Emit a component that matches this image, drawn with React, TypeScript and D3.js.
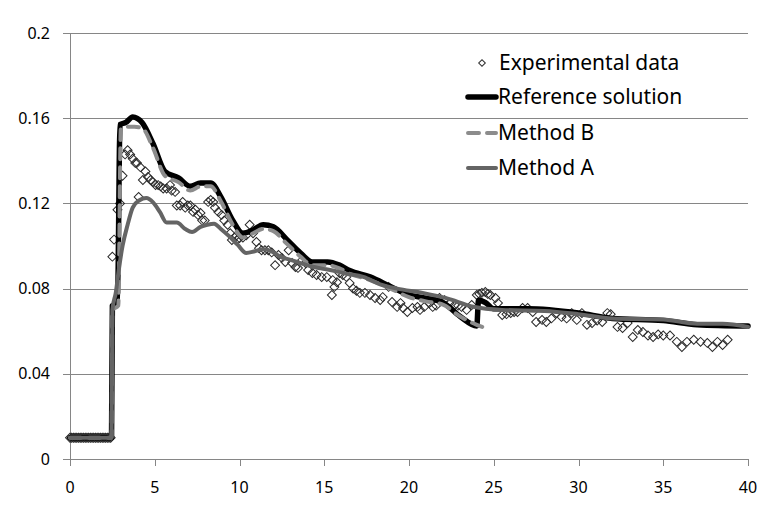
import { useEffect, useRef } from "react";
import * as d3 from "d3";

type Pt = [number, number];

const xTicks = [0, 5, 10, 15, 20, 25, 30, 35, 40];
const yTicks = [0, 0.04, 0.08, 0.12, 0.16, 0.2];
const yTickLabels = ["0", "0.04", "0.08", "0.12", "0.16", "0.2"];

const seriesNames = ["Experimental data", "Reference solution", "Method B", "Method A"];

const experimental: Pt[] = [
  [0, 0.01], [0.1, 0.01], [0.2, 0.01], [0.3, 0.01], [0.4, 0.01], [0.5, 0.01], [0.6, 0.01],
  [0.7, 0.01], [0.8, 0.01], [0.9, 0.01], [1.0, 0.01], [1.1, 0.01], [1.2, 0.01], [1.3, 0.01],
  [1.4, 0.01], [1.5, 0.01], [1.6, 0.01], [1.7, 0.01], [1.8, 0.01], [1.9, 0.01], [2.0, 0.01],
  [2.1, 0.01], [2.2, 0.01], [2.3, 0.01], [2.4, 0.01],
  [2.5, 0.095], [2.6, 0.103], [2.8, 0.117], [2.95, 0.12], [3.1, 0.133], [3.25, 0.143],
  [3.4, 0.145], [3.55, 0.143], [3.7, 0.141], [3.85, 0.139], [3.95, 0.139], [4.05, 0.123],
  [4.15, 0.137], [4.3, 0.131], [4.45, 0.135], [4.6, 0.1324], [4.75, 0.131], [4.9, 0.13],
  [5.05, 0.1286], [5.2, 0.1286], [5.35, 0.128], [5.5, 0.127], [5.7, 0.127], [5.9, 0.1286],
  [6.0, 0.126], [6.2, 0.1254], [6.3, 0.119], [6.5, 0.119], [6.65, 0.1207], [6.8, 0.118],
  [6.95, 0.119], [7.1, 0.119], [7.26, 0.116], [7.4, 0.117], [7.55, 0.1146], [7.7, 0.1155],
  [7.8, 0.112], [7.95, 0.112], [8.15, 0.1207], [8.3, 0.1216], [8.45, 0.1207], [8.55, 0.118],
  [8.75, 0.116], [8.95, 0.1146], [9.1, 0.112], [9.3, 0.11], [9.45, 0.106], [9.55, 0.1028],
  [9.7, 0.104], [9.85, 0.1028], [10.0, 0.1037], [10.2, 0.104], [10.4, 0.105], [10.6, 0.11],
  [10.8, 0.106], [11.0, 0.1019], [11.15, 0.099], [11.3, 0.098], [11.5, 0.098], [11.7, 0.098],
  [11.9, 0.097], [12.1, 0.091], [12.3, 0.0958], [12.5, 0.0944], [12.7, 0.0925], [12.9, 0.098],
  [13.1, 0.092], [13.3, 0.0901], [13.45, 0.0897], [13.7, 0.0934], [13.9, 0.092], [14.05, 0.0887],
  [14.3, 0.0873], [14.55, 0.0864], [14.85, 0.0854], [15.15, 0.0854], [15.45, 0.077], [15.5, 0.084],
  [15.6, 0.0808], [15.75, 0.083], [15.9, 0.0873], [16.1, 0.0864], [16.3, 0.0855], [16.5, 0.0826],
  [16.7, 0.08], [16.9, 0.079], [17.1, 0.078], [17.4, 0.078], [17.7, 0.077], [18.0, 0.0756],
  [18.3, 0.0746], [18.45, 0.076], [18.8, 0.0808], [19.0, 0.0737], [19.3, 0.0714], [19.5, 0.0732],
  [19.65, 0.0709], [19.9, 0.069], [20.2, 0.0709], [20.5, 0.0714], [20.65, 0.07], [20.9, 0.0714],
  [21.2, 0.0732], [21.4, 0.0714], [21.6, 0.072], [21.8, 0.0756], [22.1, 0.0746], [22.4, 0.0732],
  [22.7, 0.0723], [22.9, 0.072], [23.1, 0.0714], [23.4, 0.07], [23.7, 0.0723], [24.0, 0.077],
  [24.15, 0.0775], [24.3, 0.078], [24.5, 0.0784], [24.65, 0.0775], [24.8, 0.077], [25.1, 0.0756],
  [25.25, 0.0732], [25.5, 0.0676], [25.75, 0.068], [26.0, 0.0685], [26.2, 0.069], [26.4, 0.069],
  [26.7, 0.0709], [27.0, 0.0709], [27.3, 0.069], [27.5, 0.0643], [27.85, 0.0653], [28.1, 0.0643],
  [28.4, 0.066], [28.7, 0.0685], [29.0, 0.0667], [29.3, 0.066], [29.6, 0.0685], [29.9, 0.0653],
  [30.2, 0.0685], [30.5, 0.063], [30.8, 0.0638], [31.1, 0.065], [31.4, 0.0643], [31.7, 0.0685],
  [31.9, 0.068], [32.3, 0.062], [32.6, 0.0615], [32.9, 0.0638], [33.2, 0.0573], [33.5, 0.0606],
  [33.8, 0.0596], [34.1, 0.058], [34.4, 0.0573], [34.7, 0.0585], [35.0, 0.058], [35.4, 0.058],
  [35.8, 0.055], [36.1, 0.0526], [36.4, 0.055], [36.8, 0.056], [37.2, 0.055], [37.6, 0.0545],
  [37.9, 0.0526], [38.2, 0.055], [38.5, 0.0535], [38.8, 0.056],
];

const referenceSolution: Pt[] = [
  [0, 0.01], [2.45, 0.01], [2.5, 0.072], [2.8, 0.073], [2.95, 0.157], [3.3, 0.158], [3.7, 0.1606],
  [4.25, 0.158], [4.9, 0.148], [5.6, 0.135], [6.4, 0.132], [7.1, 0.128], [7.7, 0.1296],
  [8.3, 0.1296], [8.9, 0.123], [9.6, 0.112], [10.2, 0.106], [10.8, 0.1075], [11.4, 0.11],
  [12.0, 0.109], [12.8, 0.103], [13.6, 0.0967], [14.3, 0.0925], [15.2, 0.0925], [15.9, 0.091],
  [16.5, 0.0885], [17.7, 0.0855], [18.9, 0.081], [20, 0.077], [21, 0.0755], [22, 0.0735],
  [23, 0.067], [24.0, 0.0625], [24.1, 0.0745], [24.5, 0.0735], [25, 0.0705], [27, 0.0705],
  [30, 0.0685], [32, 0.066], [35, 0.065], [37, 0.063], [40, 0.0624],
];

const methodB: Pt[] = [
  [0, 0.01], [2.45, 0.01], [2.5, 0.07], [2.85, 0.072], [3.0, 0.155], [3.4, 0.156], [3.8, 0.156],
  [4.3, 0.155], [4.9, 0.146], [5.6, 0.133], [6.4, 0.13], [7.1, 0.126], [7.7, 0.128], [8.3, 0.128],
  [8.9, 0.121], [9.6, 0.11], [10.2, 0.104], [10.8, 0.106], [11.4, 0.108], [12.0, 0.107],
  [12.8, 0.101], [13.6, 0.095], [14.3, 0.091], [15.2, 0.091], [15.9, 0.0895], [16.5, 0.087],
  [17.7, 0.084], [18.9, 0.08], [20, 0.076], [21, 0.074], [22, 0.0725], [23, 0.067], [24.0, 0.063],
  [24.5, 0.0615],
];

const methodA: Pt[] = [
  [0, 0.01], [2.45, 0.01], [2.5, 0.07], [2.7, 0.078], [2.9, 0.09], [3.1, 0.1], [3.4, 0.11],
  [3.7, 0.118], [4.1, 0.1215], [4.5, 0.1225], [4.9, 0.1205], [5.3, 0.116], [5.7, 0.111],
  [6.3, 0.111], [6.8, 0.108], [7.2, 0.1066], [7.7, 0.109], [8.1, 0.11], [8.5, 0.1105],
  [8.9, 0.108], [9.4, 0.1045], [9.9, 0.1005], [10.4, 0.0967], [10.9, 0.0975], [11.4, 0.0985],
  [11.9, 0.0975], [12.4, 0.095], [13.0, 0.0935], [13.6, 0.092], [14.2, 0.0905], [14.8, 0.0895],
  [15.5, 0.0885], [16.3, 0.087], [17.3, 0.0855], [18.3, 0.082], [19.3, 0.08], [20.8, 0.078],
  [22.2, 0.0755], [23.8, 0.0715], [25.5, 0.07], [28, 0.0695], [30, 0.068], [32, 0.066],
  [35, 0.0655], [37, 0.0635], [38.5, 0.0635], [40, 0.062],
];

const WIDTH = 779;
const HEIGHT = 508;
const FONT = "'Noto Sans', 'Open Sans', sans-serif";

export default function App() {
  const ref = useRef<SVGSVGElement | null>(null);

  useEffect(() => {
    if (!ref.current) return;
    const svg = d3.select(ref.current);
    svg.selectAll("*").remove();

    const margin = { top: 33, right: 31, bottom: 49, left: 70 };
    const x = d3.scaleLinear().domain([0, 40]).range([margin.left, WIDTH - margin.right]);
    const y = d3.scaleLinear().domain([0, 0.2]).range([HEIGHT - margin.bottom, margin.top]);
    const axisColor = "#868686";

    // Gridlines (extend left as tick marks)
    svg.append("g")
      .selectAll("line")
      .data(yTicks)
      .enter()
      .append("line")
      .attr("x1", x(0) - 7)
      .attr("x2", x(40))
      .attr("y1", d => Math.round(y(d)) + 0.5)
      .attr("y2", d => Math.round(y(d)) + 0.5)
      .attr("stroke", axisColor)
      .attr("stroke-width", 1);

    // Left axis line
    svg.append("line")
      .attr("x1", x(0) + 0.5).attr("x2", x(0) + 0.5)
      .attr("y1", y(0.2)).attr("y2", y(0))
      .attr("stroke", axisColor);

    // X ticks
    svg.append("g")
      .selectAll("line")
      .data(xTicks)
      .enter()
      .append("line")
      .attr("x1", d => Math.round(x(d)) + 0.5)
      .attr("x2", d => Math.round(x(d)) + 0.5)
      .attr("y1", y(0))
      .attr("y2", y(0) + 7)
      .attr("stroke", axisColor);

    // Tick labels
    svg.append("g")
      .selectAll("text")
      .data(yTicks)
      .enter()
      .append("text")
      .attr("x", 50)
      .attr("y", d => y(d))
      .attr("dy", "0.35em")
      .attr("text-anchor", "end")
      .attr("font-family", FONT)
      .attr("font-size", 16)
      .attr("fill", "#000")
      .text((d, i) => yTickLabels[i]);

    svg.append("g")
      .selectAll("text")
      .data(xTicks)
      .enter()
      .append("text")
      .attr("x", d => x(d))
      .attr("y", y(0) + 28)
      .attr("dy", "0.35em")
      .attr("text-anchor", "middle")
      .attr("font-family", FONT)
      .attr("font-size", 16)
      .attr("fill", "#000")
      .text(d => String(d));

    // Experimental markers
    const diamond = d3.symbol(d3.symbolSquare, 40);
    svg.append("g")
      .selectAll("path")
      .data(experimental)
      .enter()
      .append("path")
      .attr("d", diamond)
      .attr("transform", d => `translate(${x(d[0])},${y(d[1])}) rotate(45)`)
      .attr("fill", "none")
      .attr("stroke", "#2a2a2a")
      .attr("stroke-width", 1);

    const line = d3.line<Pt>()
      .x(d => x(d[0]))
      .y(d => y(d[1]))
      .curve(d3.curveMonotoneX);

    const styles = [
      { data: referenceSolution, color: "#000", width: 5.5, dash: null as string | null },
      { data: methodB, color: "#8c8c8c", width: 4, dash: "11,8" },
      { data: methodA, color: "#646464", width: 4, dash: null as string | null },
    ];

    styles.forEach(s => {
      svg.append("path")
        .datum(s.data)
        .attr("d", line)
        .attr("fill", "none")
        .attr("stroke", s.color)
        .attr("stroke-width", s.width)
        .attr("stroke-linecap", "round")
        .attr("stroke-linejoin", "round")
        .attr("stroke-dasharray", s.dash);
    });

    // Legend
    const legend = svg.append("g");
    const rowY = [63, 97, 133, 168];
    legend.append("path")
      .attr("d", d3.symbol(d3.symbolSquare, 22)())
      .attr("transform", `translate(482,${rowY[0]}) rotate(45)`)
      .attr("fill", "none")
      .attr("stroke", "#333");
    styles.forEach((s, i) => {
      legend.append("line")
        .attr("x1", 468).attr("x2", 496)
        .attr("y1", rowY[i + 1]).attr("y2", rowY[i + 1])
        .attr("stroke", s.color)
        .attr("stroke-width", s.width)
        .attr("stroke-linecap", "round")
        .attr("stroke-dasharray", s.dash);
    });
    legend.selectAll("text")
      .data(seriesNames)
      .enter()
      .append("text")
      .attr("x", (d, i) => (i === 0 ? 499 : 498))
      .attr("y", (d, i) => rowY[i])
      .attr("dy", "0.35em")
      .attr("font-family", FONT)
      .attr("font-size", 21)
      .attr("fill", "#000")
      .text(d => d);
  }, []);

  return (
    <div style={{ position: "absolute", left: 0, top: 0, width: WIDTH, height: HEIGHT, background: "#fff" }}>
      <svg ref={ref} width={WIDTH} height={HEIGHT} />
    </div>
  );
}
